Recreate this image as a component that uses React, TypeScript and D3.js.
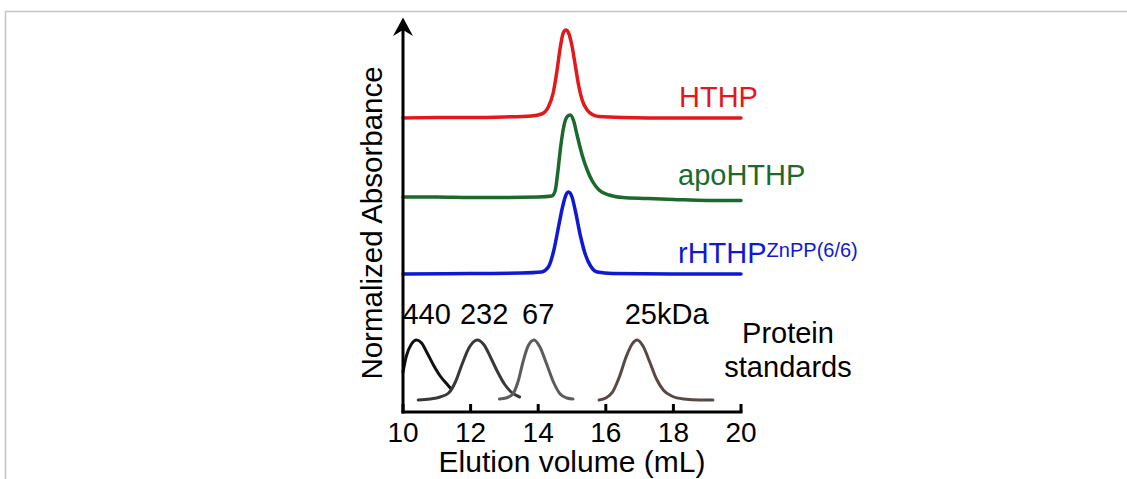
import React from "react";
import * as d3 from "d3";

// Elution volume (mL) vs normalized absorbance (arbitrary units, offset traces)
const xTicks = [10, 12, 14, 16, 18, 20];

const hthp: [number, number][] = [
  [10, 294], [11, 294.5], [12, 294.5], [13, 295], [13.8, 296], [14.1, 298], [14.3, 305],
  [14.45, 320], [14.55, 340], [14.65, 364], [14.74, 379], [14.82, 382], [14.9, 379],
  [15.0, 366], [15.1, 346], [15.2, 326], [15.3, 312], [15.45, 302], [15.6, 297.5],
  [15.8, 295.5], [16.5, 294.5], [18, 294], [20, 294],
];

const apoHthp: [number, number][] = [
  [10, 215], [11, 215], [12, 214.5], [13, 214.5], [14, 215], [14.4, 216], [14.5, 221],
  [14.58, 240], [14.66, 264], [14.76, 286], [14.86, 295.5], [14.95, 297], [15.05, 291],
  [15.15, 277], [15.3, 257], [15.45, 242], [15.6, 231], [15.8, 222], [16.1, 217],
  [16.5, 214.5], [17.2, 213.5], [18, 212.5], [19, 211.5], [20, 211.5],
];

const rHthp: [number, number][] = [
  [10, 138], [12, 138.5], [13.5, 139], [14.1, 140], [14.3, 145], [14.45, 160],
  [14.6, 185], [14.72, 205], [14.82, 217], [14.9, 220], [15.0, 215], [15.1, 201],
  [15.25, 176], [15.4, 157], [15.55, 146], [15.75, 140], [16.2, 138.5], [18, 138], [20, 138],
];

const std440: [number, number][] = [
  [10.0, 40], [10.1, 56], [10.25, 68], [10.4, 72], [10.55, 69], [10.7, 60],
  [10.9, 47], [11.1, 36], [11.3, 28], [11.4, 24],
];
const std232: [number, number][] = [
  [10.45, 12], [10.8, 13], [11.1, 15], [11.35, 19], [11.55, 30], [11.75, 48],
  [11.95, 64], [12.2, 72], [12.4, 67], [12.6, 54], [12.8, 40], [13.0, 28],
  [13.2, 20], [13.45, 15],
];
const std67: [number, number][] = [
  [12.85, 13], [13.05, 14], [13.25, 18], [13.4, 30], [13.55, 50], [13.7, 66],
  [13.88, 72], [14.05, 65], [14.25, 48], [14.45, 30], [14.65, 18], [14.85, 14], [15.03, 13],
];
const std25: [number, number][] = [
  [15.8, 12], [16.0, 14], [16.2, 20], [16.4, 35], [16.6, 55], [16.78, 68],
  [16.93, 72], [17.1, 66], [17.3, 50], [17.5, 33], [17.7, 22], [17.95, 16],
  [18.3, 13], [18.8, 12], [19.17, 12],
];

const stdLabels = [
  { text: "440", x: 10.7 },
  { text: "232", x: 12.4 },
  { text: "67", x: 14.0 },
  { text: "25kDa", x: 17.8 },
];

const traces = [
  { name: "HTHP", data: hthp, color: "#e2181b" },
  { name: "apoHTHP", data: apoHthp, color: "#1b6a2c" },
  { name: "rHTHP", data: rHthp, color: "#0f18d4" },
];
const standards = [
  { data: std440, color: "#111111" },
  { data: std232, color: "#383838" },
  { data: std67, color: "#5c5c5c" },
  { data: std25, color: "#5a4843" },
];

const FONT = "'Liberation Sans', Arial, sans-serif";

export default function App() {
  const x = d3.scaleLinear().domain([10, 20]).range([403, 741]);
  const y = d3.scaleLinear().domain([0, 392]).range([412, 20]);
  const line = d3
    .line<[number, number]>()
    .x((d) => x(d[0]))
    .y((d) => y(d[1]))
    .curve(d3.curveMonotoneX);

  const axisY = y(0);

  return (
    <svg
      width={1127}
      height={479}
      style={{ position: "absolute", left: 0, top: 0, background: "#fff" }}
      fontFamily={FONT}
    >
      {/* frame */}
      <path d="M5.5,479 L5.5,11.5 L1127,11.5" fill="none" stroke="#c4c4c4" strokeWidth={1.5} />

      {/* traces */}
      {traces.map((t) => (
        <path key={t.name} d={line(t.data) || ""} fill="none" stroke={t.color} strokeWidth={3.5} strokeLinejoin="round" strokeLinecap="round" />
      ))}
      {standards.map((s, i) => (
        <path key={i} d={line(s.data) || ""} fill="none" stroke={s.color} strokeWidth={3} strokeLinejoin="round" strokeLinecap="round" />
      ))}

      {/* axes */}
      <line x1={x(10)} x2={x(10)} y1={axisY + 1.5} y2={28} stroke="#000" strokeWidth={3} />
      <path d={`M${x(10)},19 L${x(10) - 8},34 L${x(10)},29 L${x(10) + 8},34 Z`} fill="#000" stroke="#000" strokeWidth={1.5} strokeLinejoin="miter" />
      <line x1={x(10) - 1.5} x2={x(20) + 1.5} y1={axisY} y2={axisY} stroke="#000" strokeWidth={3} />
      {xTicks.map((v) => (
        <g key={v}>
          <line x1={x(v)} x2={x(v)} y1={axisY} y2={axisY - 8} stroke="#000" strokeWidth={3} />
          <text x={x(v)} y={442} textAnchor="middle" fontSize={28} fill="#000">
            {v}
          </text>
        </g>
      ))}
      <text x={x(15)} y={472} textAnchor="middle" fontSize={30} fill="#000">
        Elution volume (mL)
      </text>
      <text transform={`translate(382,223) rotate(-90)`} textAnchor="middle" fontSize={29.5} fill="#000">
        Normalized Absorbance
      </text>

      {/* trace labels */}
      <text x={679} y={107} fontSize={29} fill={traces[0].color}>HTHP</text>
      <text x={678} y={185} fontSize={29} fill={traces[1].color}>apoHTHP</text>
      <text x={678} y={263} fontSize={29} fill={traces[2].color}>
        rHTHP<tspan fontSize={20} dy={-6}>ZnPP(6/6)</tspan>
      </text>

      {/* standards labels */}
      {stdLabels.map((l) => (
        <text key={l.text} x={x(l.x)} y={324} textAnchor="middle" fontSize={29} fill="#000">
          {l.text}
        </text>
      ))}
      <text x={788} y={343} textAnchor="middle" fontSize={29} fill="#000">Protein</text>
      <text x={788} y={377} textAnchor="middle" fontSize={29} fill="#000">standards</text>
    </svg>
  );
}
